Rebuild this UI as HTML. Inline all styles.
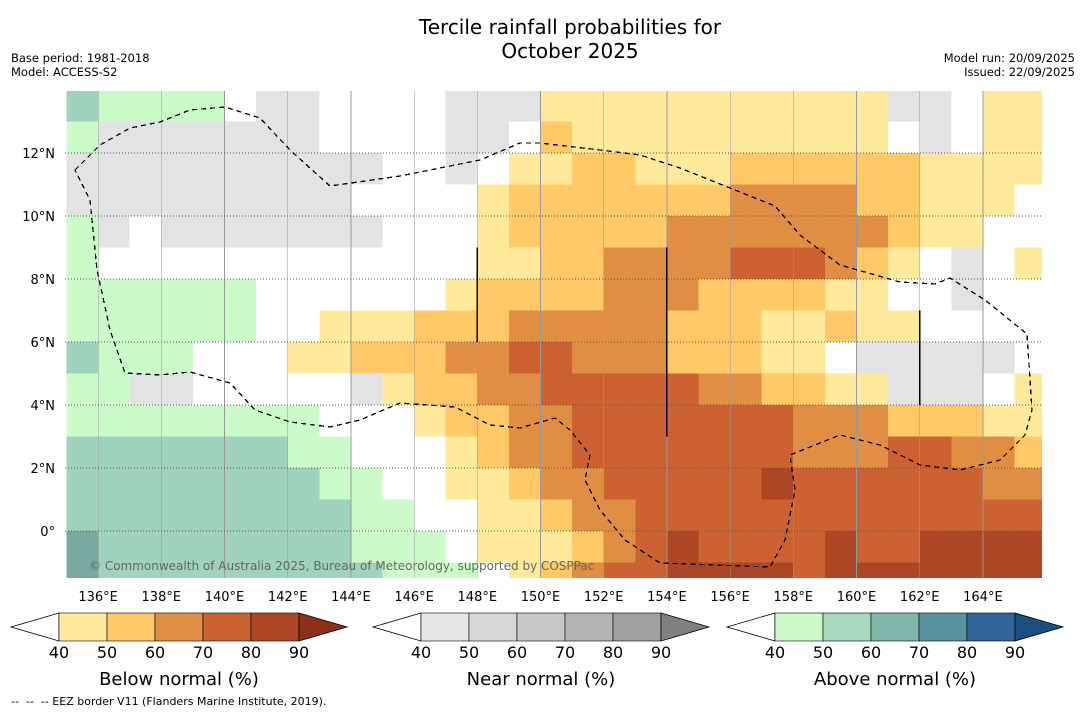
<!DOCTYPE html>
<html><head><meta charset="utf-8">
<style>
body{margin:0;background:#fff;font-family:"DejaVu Sans","Liberation Sans",sans-serif;}
#wrap{position:relative;width:1085px;height:713px;overflow:hidden;background:#fff}
.t{position:absolute;white-space:nowrap;color:#000}
</style></head>
<body>
<div id="wrap">
<div class="t" style="left:0;width:1140px;top:15px;text-align:center;font-size:20px;line-height:24px">Tercile rainfall probabilities for<br>October 2025</div>
<div class="t" style="left:11px;top:51px;font-size:11.5px;line-height:14px">Base period: 1981-2018<br>Model: ACCESS-S2</div>
<div class="t" style="right:10px;top:51px;font-size:11.5px;line-height:14px;text-align:right">Model run: 20/09/2025<br>Issued: 22/09/2025</div>
<svg id="map" width="1085" height="713" style="position:absolute;left:0;top:0"></svg>
<div class="t" style="left:11px;top:695px;font-size:11px">--&nbsp; --&nbsp; -- EEZ border V11 (Flanders Marine Institute, 2019).</div>
</div>
<script>
// Grid data: rows from 14°N down (1° cells), columns from 135°E eastward
const rowLatTop = [14,13,12,11,10,9,8,7,6,5,4,3,2,1,0,-1];
const lonStart = 135;
const gridRows = [
"baaaaWGGWWWWGGG11111111111GGW11",
"aGGGGGGGWWWWGGW21111111111WGW11",
"GGGGGGGGGGWWGW11221112222221111",
"GGGGGGGGGWWWW12222222333322111W",
"aGWGGGGGGGWWW1222223333333211WW",
"aWWWWWWWWWWWW11223333444321WGW1",
"aaaaaaWWWWWW1222233322221 1WWGWW",
"aaaaaaWW111222333332221121 1WWWWW",
"baaaWWW11222334433322211WGGGGGW",
"aaGGWWWWWG12233444443322 11GGGW1",
"aaaaaaaaWWW1223344444443332221 11",
"bbbbbbbaaWWW123344444443 3344 33 22",
"bbbbbbbbaaWW11233444445444444 33 2",
"bbbbbbbbbaaWW11233444444444444 43",
"cbbbbbbbbaaaW11123454444544 5555",
"cbbbbbbbbbaaaW12344555545555555"
].map(r=>r.replace(/ /g,''));
const catColors = {W:'#ffffff',G:'#e3e3e3',a:'#ccfbca',b:'#9fd3be',c:'#78aaa2',
 '1':'#ffea9b','2':'#fec966','3':'#df8e44','4':'#cc6231','5':'#ad4625'};
const lonTicks = [136,138,140,142,144,146,148,150,152,154,156,158,160,162,164];
const latTicks = [12,10,8,6,4,2,0];
const belowColors = ['#ffea9b','#fec966','#df8e44','#cc6231','#ad4625','#8a3118'];
const nearColors = ['#e6e6e6','#d7d7d7','#c8c8c8','#b4b4b4','#a0a0a0','#808080'];
const aboveColors = ['#ccfbca','#a5d8bd','#80b8aa','#5a93a0','#30649a','#1a4f80'];
const cbLabels = [40,50,60,70,80,90];

const FONT='DejaVu Sans, Liberation Sans, sans-serif';
const X0=65,X1=1042,Y0=91,Y1=578;
const xs = lon => 66.5 + (lon-135)*31.6;
const ys = lat => 531 - lat*31.5;
const NS='http://www.w3.org/2000/svg';
const svg=document.getElementById('map');
function mk(t,a,p){const e=document.createElementNS(NS,t);for(const k in a)e.setAttribute(k,a[k]);(p||svg).appendChild(e);return e;}

const defs=mk('defs',{});
const cp=mk('clipPath',{id:'clip'},defs);mk('rect',{x:X0,y:Y0,width:X1-X0,height:Y1-Y0},cp);
const g=mk('g',{'clip-path':'url(#clip)','shape-rendering':'crispEdges'});
gridRows.forEach((row,ri)=>{
  for(let ci=0;ci<row.length;ci++){
    const lat=rowLatTop[ri], lon=lonStart+ci;
    const r=mk('rect',{x:xs(lon),y:ys(lat),width:xs(lon+1)-xs(lon)+0.5,height:ys(lat-1)-ys(lat)+0.5,fill:catColors[row[ci]]||'#fff'},g);
    
    
  }
});
lonTicks.forEach(l=>{const e=mk('line',{x1:xs(l),x2:xs(l),y1:Y0,y2:Y1,stroke:'#999','stroke-width':0.7},g);
 });
latTicks.forEach(l=>{const e=mk('line',{x1:X0,x2:X1,y1:ys(l),y2:ys(l),stroke:'#555','stroke-width':0.8,'stroke-dasharray':'1,2'},g);
 });
const eez=mk('path',{d:'M75,170 L100,145 130,128 160,122 190,110 225,107 260,118 290,150 330,186 400,176 480,160 520,143 540,143 600,150 640,155 680,168 730,188 775,206 800,235 840,265 900,282 935,284 950,278 985,300 1027,334 1032,410 1025,435 1000,460 960,470 920,465 880,445 840,435 790,455 795,490 785,540 770,567 660,563 625,540 600,510 585,480 590,455 570,430 555,418 520,428 490,425 455,407 400,403 360,420 330,427 290,422 255,410 230,383 190,372 160,375 125,373 110,330 97,270 90,200 Z',fill:'none',stroke:'#000','stroke-width':1.3,'stroke-dasharray':'5,4'},g);

[[148,9,6],[154,9,3],[162,7,4]].forEach(s=>{const e=mk('line',{x1:xs(s[0]),x2:xs(s[0]),y1:ys(s[1]),y2:ys(s[2]),stroke:'#000','stroke-width':1.6},g);
 });
const cr=mk('text',{x:89,y:570,'font-size':12,fill:'#666','font-family':FONT},g);cr.textContent='© Commonwealth of Australia 2025, Bureau of Meteorology, supported by COSPPac';

lonTicks.forEach(l=>{const e=mk('text',{x:xs(l),y:601,'text-anchor':'middle','font-size':13,'font-family':FONT});e.textContent=l+'°E';
 });
latTicks.forEach(l=>{const e=mk('text',{x:55,y:ys(l)+5,'text-anchor':'end','font-size':13,'font-family':FONT});e.textContent=l===0?'0°':l+'°N';
 });
function cbar(x0,colors,title,name){
  const y0=613,h=28,w=48;
  const gg=mk('g',{});
  mk('polygon',{points:`${x0},${y0+h/2} ${x0+w},${y0} ${x0+w},${y0+h}`,fill:'#fff',stroke:'#000','stroke-width':0.8},gg);
  for(let i=0;i<5;i++){const r=mk('rect',{x:x0+w*(i+1),y:y0,width:w,height:h,fill:colors[i],stroke:'#000','stroke-width':0.6},gg);
    }
  mk('polygon',{points:`${x0+w*6},${y0} ${x0+w*7},${y0+h/2} ${x0+w*6},${y0+h}`,fill:colors[5],stroke:'#000','stroke-width':0.8},gg);
  cbLabels.forEach((v,i)=>{const t=mk('text',{x:x0+w*(i+1),y:658,'text-anchor':'middle','font-size':16,'font-family':FONT},gg);t.textContent=v;
    });
  const t=mk('text',{x:x0+w*3.5,y:685,'text-anchor':'middle','font-size':18,'font-family':FONT},gg);t.textContent=title;
  
}
cbar(11,belowColors,'Below normal (%)','below-normal-colorbar');
cbar(373,nearColors,'Near normal (%)','near-normal-colorbar');
cbar(727,aboveColors,'Above normal (%)','above-normal-colorbar');
</script>
</body></html>
